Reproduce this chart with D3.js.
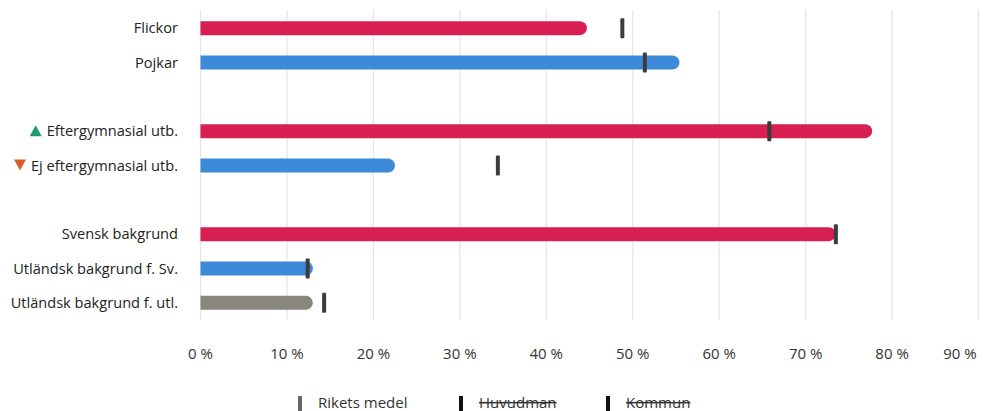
<!DOCTYPE html>
<html>
<head>
<meta charset="utf-8">
<script src="https://cdn.jsdelivr.net/npm/d3@7"></script>
<title>Andel per grupp</title>
<style>
body { margin: 0; background: #fff; }
svg text { font-family: "Open Sans", "Noto Sans", sans-serif; }
</style>
</head>
<body>
<svg id="chart"></svg>
<script>
// rows (null = spacer between groups)
var labels = ["Flickor", "Pojkar", null, "Eftergymnasial utb.", "Ej eftergymnasial utb.", null,
              "Svensk bakgrund", "Utländsk bakgrund f. Sv.", "Utländsk bakgrund f. utl."];
var values = [44.7, 55.4, null, 77.7, 22.5, null, 73.5, 13.0, 13.0];
var rikets = [48.8, 51.4, null, 65.8, 34.4, null, 73.5, 12.4, 14.3];
var barColors = ["#d81f51", "#3d8bd8", null, "#d81f51", "#3d8bd8", null, "#d81f51", "#3d8bd8", "#87877d"];
var trend = [null, null, null, "up", "down", null, null, null, null];
var ticks = [0, 10, 20, 30, 40, 50, 60, 70, 80, 90];
var legendItems = ["Rikets medel", "Huvudman", "Kommun"];

var W = 983, H = 411;
var svg = d3.select("#chart").attr("width", W).attr("height", H);

var x = d3.scaleLinear().domain([0, 90]).range([200.5, 978.5]);
var y = d3.scaleBand().domain(d3.range(labels.length)).range([11, 320]);
var barH = 14;
var fs = 14.6;

// gridlines
svg.append("g").selectAll("line").data(ticks).enter().append("line")
    .attr("x1", function(d) { return x(d); }).attr("x2", function(d) { return x(d); })
    .attr("y1", 10).attr("y2", 320)
    .attr("stroke", "#e3e6ea").attr("stroke-width", 1.3);

// tick labels
svg.append("g").selectAll("text").data(ticks).enter().append("text")
    .attr("x", function(d) { return Math.min(x(d), 960); })
    .attr("y", 359)
    .attr("text-anchor", "middle")
    .attr("font-size", 15)
    .attr("fill", "#333")
    .text(function(d) { return d + " %"; });

var rows = d3.range(labels.length).filter(function(i) { return labels[i] !== null; });

// bars: square left end, round right end
function barPath(i) {
    var x0 = x(0), x1 = x(values[i]), cy = y(i) + y.bandwidth() / 2, r = barH / 2;
    return "M" + x0 + "," + (cy - r) + "L" + (x1 - r) + "," + (cy - r) +
           "A" + r + "," + r + " 0 0 1 " + (x1 - r) + "," + (cy + r) +
           "L" + x0 + "," + (cy + r) + "Z";
}
svg.append("g").selectAll("path").data(rows).enter().append("path")
    .attr("d", barPath)
    .attr("fill", function(i) { return barColors[i]; });

// rikets medel markers
svg.append("g").selectAll("rect").data(rows).enter().append("rect")
    .attr("x", function(i) { return x(rikets[i]) - 2; })
    .attr("y", function(i) { return y(i) + y.bandwidth() / 2 - 10; })
    .attr("width", 4).attr("height", 20).attr("rx", 1)
    .attr("fill", "#3c3c3c");

// category labels
svg.append("g").selectAll("text").data(rows).enter().append("text")
    .attr("x", 178)
    .attr("y", function(i) { return y(i) + y.bandwidth() / 2; })
    .attr("dy", "0.35em")
    .attr("text-anchor", "end")
    .attr("font-size", fs)
    .attr("fill", "#222")
    .text(function(i) { return labels[i]; });

// trend triangles
rows.filter(function(i) { return trend[i]; }).forEach(function(i) {
    var cy = y(i) + y.bandwidth() / 2;
    var w = d3.select("#chart").append("text").attr("font-size", fs).text(labels[i]);
    var tw = w.node().getComputedTextLength();
    w.remove();
    var cx = 178 - tw - 11;
    var pts = trend[i] === "up"
        ? [[cx - 6, cy + 5], [cx + 6, cy + 5], [cx, cy - 6]]
        : [[cx - 6, cy - 6], [cx + 6, cy - 6], [cx, cy + 5]];
    svg.append("path")
        .attr("d", d3.line()(pts) + "Z")
        .attr("fill", trend[i] === "up" ? "#1f9a6f" : "#d9602c");
});

// legend
var lx = [298, 459, 606];
var lg = svg.append("g").selectAll("g").data(legendItems).enter().append("g")
    .attr("transform", function(d, i) { return "translate(" + lx[i] + ",0)"; });
lg.append("rect").attr("x", 0).attr("y", 396).attr("width", 4).attr("height", 15)
    .attr("fill", function(d, i) { return i === 0 ? "#666" : "#111"; });
lg.append("text").attr("x", 20).attr("y", 408)
    .attr("font-size", 15)
    .attr("fill", "#333")
    .attr("text-decoration", function(d, i) { return i === 0 ? null : "line-through"; })
    .text(function(d) { return d; });
</script>
</body>
</html>
